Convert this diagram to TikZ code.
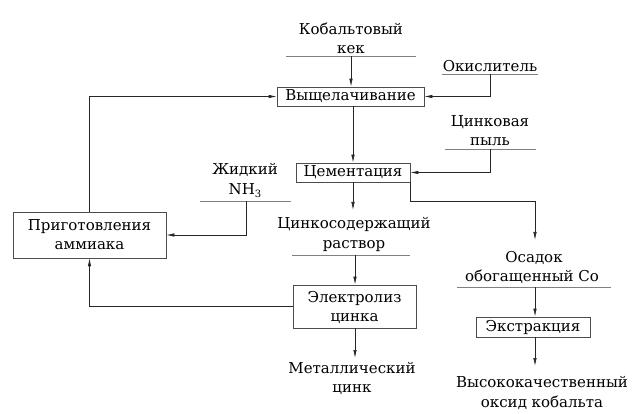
\documentclass[tikz,border=0pt]{standalone}
\usepackage{fontspec}
\newfontfamily\diagfont{DejaVu Serif}
\usetikzlibrary{arrows.meta}
\tikzset{
  txt/.style={inner sep=0pt, anchor=base, font=\diagfont\fontsize{15}{20}\selectfont},
  procbox/.style={draw=black!70, line width=0.7pt, inner sep=0pt, font=\diagfont\fontsize{15}{20}\selectfont},
  uline/.style={draw=black!50, line width=0.7pt},
  flow/.style={draw=black!85, line width=0.7pt, -{Latex[length=8pt,width=3.5pt]}}
}
\begin{document}
\begin{tikzpicture}[x=1pt,y=-1pt]
\useasboundingbox (0,0) rectangle (643,414);
% free texts
\node[txt] (kob1) at (351,35) {Кобальтовый};
\node[txt] (kob2) at (351,54) {кек};
\coordinate (kobL) at (286,56); \coordinate (kobR) at (416,56); \coordinate (kobM) at (351,56);
\draw[uline] (kobL) -- (kobR);
\node[txt] (oks) at (490,72) {Окислитель};
\coordinate (oksL) at (442,74); \coordinate (oksR) at (538,74); \coordinate (oksM) at (490,74);
\draw[uline] (oksL) -- (oksR);
\node[txt] (pyl1) at (490,127) {Цинковая};
\node[txt] (pyl2) at (490,146) {пыль};
\coordinate (pylL) at (445,149); \coordinate (pylR) at (536,149); \coordinate (pylM) at (490,149);
\draw[uline] (pylL) -- (pylR);
\node[txt] (nh1) at (245,175) {Жидкий};
\node[txt] (nh2) at (245,195) {NH\raisebox{-3pt}{\fontsize{10}{10}\selectfont 3}};
\coordinate (nhL) at (200,201); \coordinate (nhR) at (291,201); \coordinate (nhM) at (246,201);
\draw[uline] (nhL) -- (nhR);
\node[txt] (ras1) at (354,229) {Цинкосодержащий};
\node[txt] (ras2) at (354,249) {раствор};
\coordinate (rasL) at (292,255); \coordinate (rasR) at (410,255); \coordinate (rasM) at (355,255);
\draw[uline] (rasL) -- (rasR);
\node[txt] (osa1) at (534,263) {Осадок};
\node[txt] (osa2) at (532,282) {обогащенный Co};
\coordinate (osaL) at (457,287); \coordinate (osaR) at (611,287); \coordinate (osaM) at (535,287);
\draw[uline] (osaL) -- (osaR);
\node[txt] (met1) at (352,373) {Металлический};
\node[txt] (met2) at (352,392) {цинк};
\node[txt] (vok1) at (542,387) {Высококачественный};
\node[txt] (vok2) at (542,407) {оксид кобальта};
% boxes
\node[procbox, minimum width=147pt, minimum height=19pt] (vys) at (350.5,96.5) {Выщелачивание};
\node[procbox, minimum width=114pt, minimum height=19pt] (cem) at (353,172.5) {Цементация};
\node[procbox, minimum width=153pt, minimum height=46pt] (pri) at (89.5,235) {};
\node[txt] (pri1) at (89.5,231) {Приготовления};
\node[txt] (pri2) at (89.5,250) {аммиака};
\node[procbox, minimum width=123pt, minimum height=43pt] (ele) at (354.5,306.5) {};
\node[txt] (ele1) at (354.5,302) {Электролиз};
\node[txt] (ele2) at (354.5,322) {цинка};
\node[procbox, minimum width=114pt, minimum height=20pt] (eks) at (533,327) {Экстракция};
% free ends
\coordinate (rasTop) at (353,210);
\coordinate (osaTop) at (535,240);
\coordinate (metTop) at (355,358);
\coordinate (vokTop) at (535,366);
% connectors
\draw[flow] (kobM) -- (kobM |- vys.north);
\draw[flow] (oksM) |- (vys.east);
\draw[flow] (cem.north |- vys.south) -- (cem.north);
\draw[flow] (pylM) |- (cem.east);
\draw[flow] (nhM) |- (pri.east);
\draw[flow] (rasTop |- cem.south) -- (rasTop);
\draw[flow] (cem.south east) -- ++(0,19) -| (osaTop);
\draw[flow] (rasM) -- (rasM |- ele.north);
\draw[flow] (ele.west) -| (pri.south);
\draw[flow] (pri.north) |- (vys.west);
\draw[flow] (metTop |- ele.south) -- (metTop);
\draw[flow] (osaM) -- (osaM |- eks.north);
\draw[flow] (vokTop |- eks.south) -- (vokTop);
\end{tikzpicture}
\end{document}
